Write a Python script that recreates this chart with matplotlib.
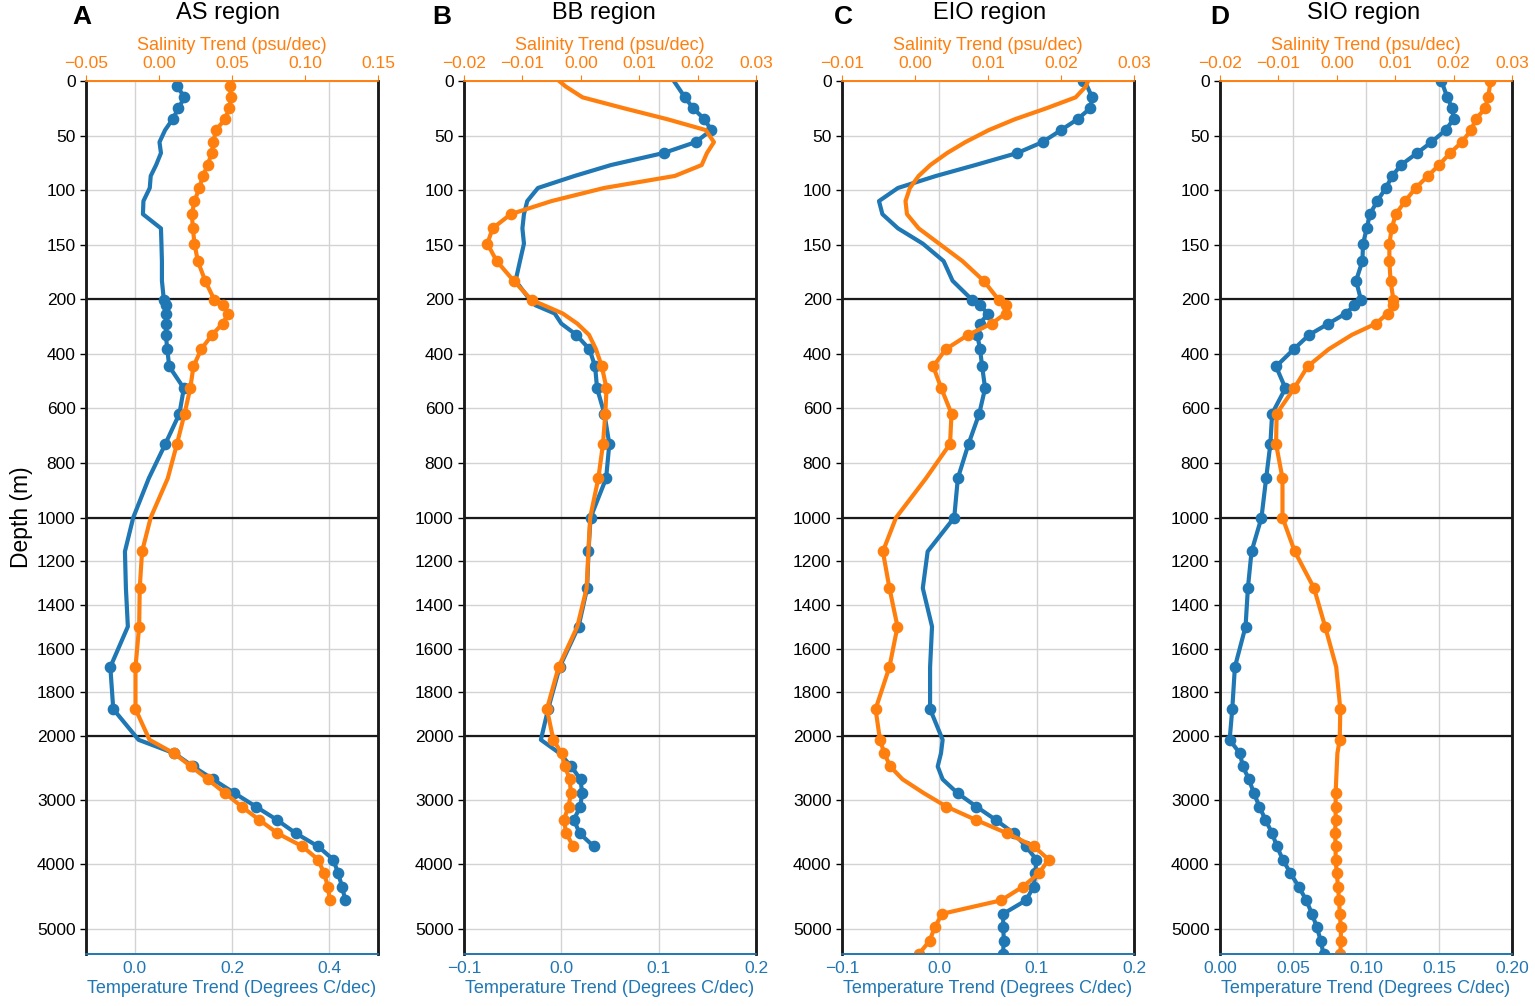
import numpy as np
import matplotlib
matplotlib.use('Agg')
from matplotlib import pyplot as plt

plt.rcParams['font.family'] = ['Liberation Sans', 'DejaVu Sans']

nan = np.nan

# depth levels (m)
depth = [0, 5, 15, 25, 35, 45, 56, 66, 77, 87, 98, 110, 122, 135, 149, 165, 183,
         203, 222, 252, 289, 330, 383, 446, 526, 619, 730, 856, 1000,
         1155, 1323, 1499, 1684, 1877, 2060,
         2270, 2475, 2675, 2890, 3100, 3305, 3515, 3720, 3925, 4135, 4345, 4560,
         4770, 4980, 5190, 5400]

regions = ['AS region', 'BB region', 'EIO region', 'SIO region']
letters = ['A', 'B', 'C', 'D']

# temperature trend (degrees C/dec)
temp_as = [nan, 0.088, 0.102, 0.090, 0.078, 0.0625, 0.051, 0.054, 0.044, 0.033, 0.031, 0.018, 0.017,
           0.054, 0.055, 0.056, 0.056,
           0.060, 0.0645, 0.064, 0.0645, 0.064, 0.067, 0.071, 0.101, 0.092, 0.063, 0.029, -0.003,
           -0.020, -0.018, -0.014, -0.050, -0.044, 0.008,
           0.0815, 0.120, 0.161, 0.205, 0.249, 0.292, 0.331, 0.377, 0.408, 0.418, 0.426, 0.433,
           nan, nan, nan, nan]
temp_bb = [0.1156, 0.1194, 0.127, 0.1354, 0.147, 0.154, 0.138, 0.105, 0.051, 0.0136, -0.024, -0.035,
           -0.0384, -0.040, -0.0384, -0.0425, -0.047,
           -0.032, -0.0265, -0.0068, 0.000, 0.0153, 0.0289, 0.0347, 0.0367, 0.0442, 0.0493, 0.046, 0.030,
           0.0279, 0.0265, 0.0177, -0.0017, -0.0136, -0.021,
           -0.0017, 0.0102, 0.0197, 0.0214, 0.0194, 0.0129, 0.0187, 0.0333, nan, nan, nan, nan,
           nan, nan, nan, nan]
temp_eio = [0.148, 0.152, 0.157, 0.155, 0.142, 0.125, 0.106, 0.080, 0.037, -0.0034, -0.0425, -0.062,
            -0.0585, -0.0425, -0.017, 0.0044, 0.0136,
            0.034, 0.0415, 0.050, 0.0418, 0.039, 0.0418, 0.044, 0.047, 0.041, 0.030, 0.019, 0.0153,
            -0.012, -0.017, -0.0075, -0.0095, -0.0095, 0.0034,
            0.0017, -0.0017, 0.0034, 0.0187, 0.038, 0.0578, 0.0765, 0.089, 0.0997, 0.0986, 0.097, 0.089,
            0.0656, 0.0656, 0.0663, 0.0653]
temp_sio = [0.1516, 0.153, 0.1557, 0.159, 0.160, 0.1545, 0.1448, 0.135, 0.1239, 0.118, 0.1136, 0.1077,
            0.1027, 0.1005, 0.098, 0.0975, 0.0932,
            0.0966, 0.092, 0.0861, 0.0743, 0.0611, 0.0505, 0.0384, 0.0448, 0.0357, 0.0345, 0.0316, 0.0284,
            0.0216, 0.0191, 0.0175, 0.0102, 0.0084, 0.0066,
            0.0136, 0.0157, 0.0198, 0.0232, 0.027, 0.0311, 0.0357, 0.039, 0.043, 0.0482, 0.0539, 0.0591,
            0.063, 0.0664, 0.069, 0.0709]

# salinity trend (psu/dec)
sal_as = [nan, 0.0486, 0.0493, 0.0482, 0.0452, 0.039, 0.0373, 0.036, 0.0334, 0.030, 0.0277, 0.0243,
          0.0225, 0.0232, 0.0243, 0.0266, 0.0316,
          0.038, 0.044, 0.0475, 0.0436, 0.0364, 0.0289, 0.0236, 0.0214, 0.0175, 0.0123, 0.006, -0.0057,
          -0.0116, -0.0132, -0.0136, -0.0161, -0.0161, -0.0065,
          0.0102, 0.022, 0.0334, 0.0452, 0.0566, 0.0686, 0.0811, 0.0982, 0.109, 0.113, 0.1157, 0.117,
          nan, nan, nan, nan]
sal_bb = [-0.0037, -0.0026, 0.0003, 0.0074, 0.0148, 0.0214, 0.0228, 0.0216, 0.0207, 0.0161, 0.004,
          -0.005, -0.012, -0.0151, -0.016, -0.0144, -0.0115,
          -0.0084, -0.0063, -0.0031, -0.0006, 0.0014, 0.0026, 0.0036, 0.0044, 0.0042, 0.0038, 0.003, 0.0016,
          0.0013, 0.001, -0.0006, -0.0038, -0.0058, -0.0047,
          -0.0033, -0.0027, -0.0019, -0.0017, -0.0021, -0.0029, -0.0025, -0.0013, nan, nan, nan, nan,
          nan, nan, nan, nan]
sal_eio = [0.0237, 0.0234, 0.022, 0.018, 0.0137, 0.0101, 0.0069, 0.0044, 0.0021, 0.0005, -0.0007,
           -0.0013, -0.0011, 0.0005, 0.0033, 0.0065, 0.0094,
           0.0115, 0.0124, 0.0124, 0.0105, 0.0073, 0.0042, 0.0025, 0.0036, 0.005, 0.0048, 0.0015, -0.0026,
           -0.0044, -0.0035, -0.0024, -0.0035, -0.0054, -0.0048,
           -0.0042, -0.0034, -0.0017, 0.0012, 0.0043, 0.0083, 0.0126, 0.0163, 0.0183, 0.017, 0.0148, 0.0118,
           0.0037, 0.0027, 0.002, 0.0005]
sal_sio = [0.0263, 0.0262, 0.0259, 0.0254, 0.0238, 0.023, 0.0214, 0.0194, 0.0175, 0.0156, 0.0135,
           0.0117, 0.0101, 0.0094, 0.009, 0.009, 0.0092,
           0.0097, 0.0097, 0.0087, 0.0067, 0.0026, -0.0014, -0.005, -0.0073, -0.0103, -0.0104, -0.0093, -0.0093,
           -0.0072, -0.0039, -0.002, -0.0001, 0.0006, 0.0005,
           0.0001, 0.0, -0.0001, -0.0002, -0.0002, -0.0002, -0.0003, -0.0002, -0.0002, 0.0, 0.0002, 0.0004,
           0.0005, 0.0007, 0.0007, 0.0006]

# significant levels (1 = marker)
sig_temp_as = [0] + [1]*4 + [0]*12 + [1]*10 + [0]*5 + [1]*2 + [0] + [1]*12 + [0]*4
sig_temp_bb = [0]*2 + [1]*6 + [0]*13 + [1]*13 + [0]*2 + [1]*7 + [0]*8
sig_temp_eio = [1, 0] + [1]*6 + [0]*9 + [1]*12 + [0]*4 + [1] + [0]*4 + [1]*13
sig_temp_sio = [1, 0] + [1]*49
sig_sal_as = [0] + [1]*16 + [1]*10 + [0]*2 + [1]*5 + [0] + [1]*12 + [0]*4
sig_sal_bb = [0]*12 + [1]*6 + [0]*5 + [1]*5 + [0]*4 + [1]*11 + [0]*8
sig_sal_eio = [0]*16 + [1]*11 + [0]*2 + [1]*8 + [0]*2 + [1]*12
sig_sal_sio = [1, 0] + [1]*19 + [0]*2 + [1]*9 + [0] + [1]*2 + [0]*3 + [1]*13

temps = [temp_as, temp_bb, temp_eio, temp_sio]
sals = [sal_as, sal_bb, sal_eio, sal_sio]
sig_t = [sig_temp_as, sig_temp_bb, sig_temp_eio, sig_temp_sio]
sig_s = [sig_sal_as, sig_sal_bb, sig_sal_eio, sig_sal_sio]

t_lims = [(-0.1, 0.5), (-0.1, 0.2), (-0.1, 0.2), (0.0, 0.2)]
t_ticks = [[0.0, 0.2, 0.4], [-0.1, 0.0, 0.1, 0.2], [-0.1, 0.0, 0.1, 0.2], [0.0, 0.05, 0.10, 0.15, 0.20]]
t_fmt = ['%.1f', '%.1f', '%.1f', '%.2f']
s_lims = [(-0.05, 0.15), (-0.02, 0.03), (-0.01, 0.03), (-0.02, 0.03)]
s_ticks = [[-0.05, 0.0, 0.05, 0.10, 0.15], [-0.02, -0.01, 0.0, 0.01, 0.02, 0.03],
           [-0.01, 0.0, 0.01, 0.02, 0.03], [-0.02, -0.01, 0.0, 0.01, 0.02, 0.03]]
s_fmt = ['%.2f', '%.2f', '%.2f', '%.2f']
y_ticks = [0, 50, 100, 150, 200, 400, 600, 800, 1000, 1200, 1400, 1600, 1800, 2000, 3000, 4000, 5000]

# piecewise depth axis: 0-200, 200-1000, 1000-2000, 2000-5400 each same height
seg_d = [-1e5, 0, 200, 1000, 2000, 5400, 1e5]
seg_p = [-500, 0, 1, 2, 3, 4, 4 + (1e5 - 5400) / 3400]


def fwd(d):
    return np.interp(d, seg_d, seg_p)


def inv(p):
    return np.interp(p, seg_p, seg_d)


blue = '#1f77b4'
orange = '#ff7f0e'

fig = plt.figure(figsize=(15.35, 10.06), dpi=100)
lefts = [86, 464, 842, 1220]
letter_x = [82, 442, 843, 1220]
title_x = [228, 604, 990, 1364]

dep = np.array(depth, dtype=float)

for i in range(4):
    ax = fig.add_axes([lefts[i] / 1535, 0.0514, 292 / 1535, 0.8681])
    ax.set_yscale('function', functions=(fwd, inv))
    ax.set_ylim(5400, 0)
    ax.set_xlim(t_lims[i])
    ax.set_xticks(t_ticks[i])
    ax.set_xticklabels([(t_fmt[i] % v).replace('-', '\u2212') for v in t_ticks[i]])
    ax.set_yticks(y_ticks)
    ax.set_yticklabels([str(v) for v in y_ticks])
    ax.grid(True, color='#d3d3d3', lw=1)
    ax.set_axisbelow(True)
    for d in [200, 1000, 2000]:
        ax.axhline(d, color='#1a1a1a', lw=1.6, zorder=1.5)

    t = np.array(temps[i], dtype=float)
    m = np.array(sig_t[i]) == 1
    ax.plot(t, dep, color=blue, lw=3.0, zorder=2)
    ax.plot(t[m], dep[m], 'o', color=blue, ms=7.4, zorder=2)

    ax.tick_params(axis='x', colors=blue, length=0, labelsize=12.5, pad=5)
    ax.tick_params(axis='y', labelsize=12.5, length=4, width=1)
    ax.set_xlabel('Temperature Trend (Degrees C/dec)', color=blue, fontsize=13, labelpad=3)
    if i == 0:
        ax.set_ylabel('Depth (m)', fontsize=16.5, labelpad=3)

    ax2 = ax.twiny()
    ax2.set_xlim(s_lims[i])
    ax2.set_xticks(s_ticks[i])
    ax2.set_xticklabels([(s_fmt[i] % v).replace('-', '\u2212') for v in s_ticks[i]])
    s = np.array(sals[i], dtype=float)
    ms_ = np.array(sig_s[i]) == 1
    ax2.plot(s, dep, color=orange, lw=3.0)
    ax2.plot(s[ms_], dep[ms_], 'o', color=orange, ms=7.4)
    ax2.tick_params(axis='x', colors=orange, labelsize=12.5, length=4)
    ax2.set_xlabel('Salinity Trend (psu/dec)', color=orange, fontsize=13, labelpad=4)

    for a in (ax, ax2):
        a.spines['top'].set_color(orange)
        a.spines['top'].set_linewidth(1.2)
        a.spines['bottom'].set_color(blue)
        a.spines['bottom'].set_linewidth(1.2)
        a.spines['left'].set_color('#1a1a1a')
        a.spines['left'].set_linewidth(1.8)
        a.spines['right'].set_color('#1a1a1a')
        a.spines['right'].set_linewidth(1.8)

    fig.text(title_x[i] / 1535, 1 - 13 / 1006, regions[i], ha='center', va='center', fontsize=17)
    fig.text(letter_x[i] / 1535, 1 - 17 / 1006, letters[i], ha='center', va='center',
             fontsize=19, fontweight='bold')

plt.savefig('out.png', dpi=100)
